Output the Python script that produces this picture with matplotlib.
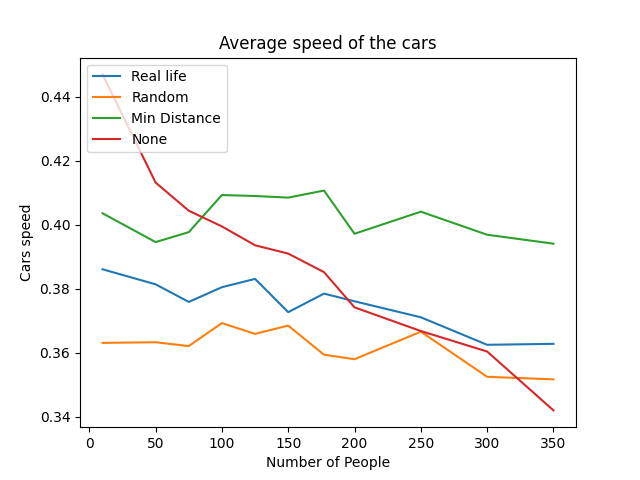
import matplotlib
matplotlib.use("Agg")
from matplotlib import pyplot as plt

people = [10, 50, 75, 100, 125, 150, 177, 200, 250, 300, 350]

real_life = [0.3861, 0.3814, 0.3759, 0.3805, 0.3831, 0.3727, 0.3785, 0.3761, 0.3711, 0.3625, 0.3628]
random_ = [0.3631, 0.3633, 0.3621, 0.3693, 0.3659, 0.3685, 0.3594, 0.3580, 0.3666, 0.3525, 0.3517]
min_distance = [0.4036, 0.3946, 0.3977, 0.4093, 0.4090, 0.4085, 0.4107, 0.3972, 0.4041, 0.3969, 0.3941]
none = [0.4470, 0.4132, 0.4044, 0.3995, 0.3936, 0.3910, 0.3852, 0.3742, 0.3668, 0.3604, 0.3420]

fig = plt.figure(figsize=(6.4, 4.8), dpi=100)
ax = fig.add_subplot(111)
ax.plot(people, real_life, label='Real life')
ax.plot(people, random_, label='Random')
ax.plot(people, min_distance, label='Min Distance')
ax.plot(people, none, label='None')
ax.set(title='Average speed of the cars', xlabel='Number of People', ylabel='Cars speed')
ax.legend(loc='upper left')
plt.savefig('out.png', dpi=100)
